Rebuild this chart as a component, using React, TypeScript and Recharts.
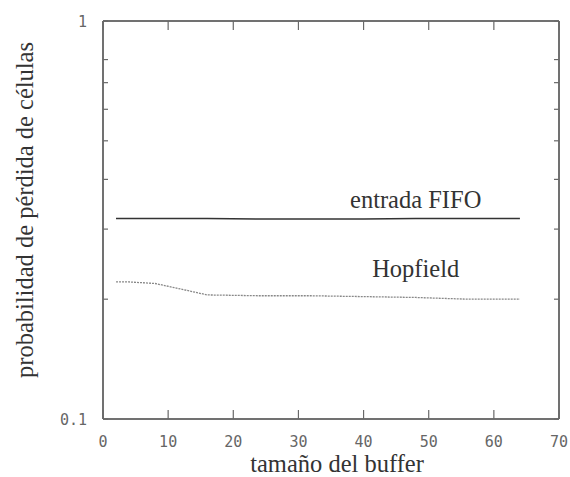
/**
 * Probabilidad de pérdida de células vs tamaño del buffer (log y-axis).
 */
import { LineChart, Line, XAxis, YAxis, ReferenceDot, ReferenceLine, ReferenceArea } from 'recharts';

const bufferSizes = [2, 4, 8, 12, 16, 24, 32, 40, 48, 56, 64];
const fifoLoss = [0.319, 0.319, 0.319, 0.319, 0.319, 0.318, 0.318, 0.318, 0.319, 0.319, 0.319];
const hopfieldLoss = [0.221, 0.221, 0.219, 0.212, 0.205, 0.204, 0.204, 0.203, 0.202, 0.2, 0.2];

const xTicks = [0, 10, 20, 30, 40, 50, 60, 70];
const yTicks = [0.1, 0.2, 0.3, 0.4, 0.5, 0.6, 0.7, 0.8, 0.9, 1];
const yLabelled = [0.1, 1];

const data = bufferSizes.map((b, i) => ({ b, fifo: fifoLoss[i], hopfield: hopfieldLoss[i] }));

// frame sides, as pairs of domain corners
const frameSides = [
  [{ x: 0, y: 0.1 }, { x: 70, y: 0.1 }],
  [{ x: 0, y: 1 }, { x: 70, y: 1 }],
  [{ x: 0, y: 0.1 }, { x: 0, y: 1 }],
  [{ x: 70, y: 0.1 }, { x: 70, y: 1 }],
];

const FRAME = 'dimgray';
const MONO = '"DejaVu Sans Mono", monospace';
const SERIF = '"Liberation Serif", "Times New Roman", serif';

function BottomTick({ x, y, payload }: any) {
  return (
    <g>
      <line x1={x} x2={x} y1={y} y2={y - 9} stroke={FRAME} strokeWidth={1.2} />
      <text x={x} y={y + 28} textAnchor="middle" fontFamily={MONO} fontSize={15} fill="#666">
        {payload.value}
      </text>
    </g>
  );
}

function TopTick({ x, y }: any) {
  return <line x1={x} x2={x} y1={y} y2={y + 9} stroke={FRAME} strokeWidth={1.2} />;
}

function LeftTick({ x, y, payload }: any) {
  return (
    <g>
      <line x1={x} x2={x + 5} y1={y} y2={y} stroke={FRAME} strokeWidth={1.2} />
      {yLabelled.includes(payload.value) && (
        <text x={x - 16} y={y + 6} textAnchor="end" fontFamily={MONO} fontSize={15} fill="#666">
          {payload.value}
        </text>
      )}
    </g>
  );
}

function RightTick({ x, y }: any) {
  return <line x1={x} x2={x - 5} y1={y} y2={y} stroke={FRAME} strokeWidth={1.2} />;
}

function YTitle() {
  return (
    <text x={33} y={210} transform="rotate(-90 33 210)" textAnchor="middle"
      fontFamily={SERIF} fontSize={24.5} fill="#333">
      probabilidad de pérdida de células
    </text>
  );
}

function XTitle() {
  return (
    <text x={337} y={472} textAnchor="middle" fontFamily={SERIF} fontSize={24.5} fill="#333">
      tamaño del buffer
    </text>
  );
}

export default function App() {
  return (
    <div style={{ position: 'absolute', left: 0, top: 0 }}>
      <LineChart width={570} height={477} data={data} margin={{ top: 20, right: 10, bottom: 0, left: 0 }}>
        <XAxis xAxisId="bottom" dataKey="b" type="number" domain={[0, 70]} ticks={xTicks} stroke={FRAME}
          height={58} tickSize={0} tickMargin={0} tickLine={false} tick={<BottomTick />}
          label={<XTitle />} />
        <XAxis xAxisId="top" orientation="top" dataKey="b" type="number" domain={[0, 70]} ticks={xTicks}
          stroke={FRAME} height={1} tickSize={0} tickMargin={0} tickLine={false} tick={<TopTick />} />
        <YAxis yAxisId="left" scale="log" type="number" domain={[0.1, 1]} ticks={yTicks} allowDataOverflow
          stroke={FRAME} width={103} tickSize={0} tickMargin={0} tickLine={false} tick={<LeftTick />}
          label={<YTitle />} />
        <YAxis yAxisId="right" orientation="right" scale="log" type="number" domain={[0.1, 1]} ticks={yTicks}
          allowDataOverflow stroke={FRAME} width={1} tickSize={0} tickMargin={0} tickLine={false}
          tick={<RightTick />} />
        <ReferenceArea xAxisId="bottom" yAxisId="left" x1={0} x2={70} y1={0.1} y2={1} ifOverflow="visible"
          fill="white" fillOpacity={0} stroke={FRAME} />
        {frameSides.map((seg, i) => (
          <ReferenceLine key={i} xAxisId="bottom" yAxisId="left" segment={seg} ifOverflow="visible"
            stroke={FRAME} strokeWidth={1.5} />
        ))}
        <Line xAxisId="bottom" yAxisId="left" dataKey="fifo" type="linear" stroke="#333" strokeWidth={1.5}
          dot={false} isAnimationActive={false} />
        <Line xAxisId="bottom" yAxisId="left" dataKey="hopfield" type="linear" stroke="#888" strokeWidth={1.3}
          strokeDasharray="2 1" dot={false} isAnimationActive={false} />
        <ReferenceDot xAxisId="bottom" yAxisId="left" x={48} y={0.319} r={0} stroke="none" fill="none"
          label={{ value: 'entrada FIFO', position: 'top', offset: 10, fontFamily: SERIF, fontSize: 24.5, fill: '#333' }} />
        <ReferenceDot xAxisId="bottom" yAxisId="left" x={48} y={0.202} r={0} stroke="none" fill="none"
          label={{ value: 'Hopfield', position: 'top', offset: 20, fontFamily: SERIF, fontSize: 24.5, fill: '#333' }} />
      </LineChart>
    </div>
  );
}
